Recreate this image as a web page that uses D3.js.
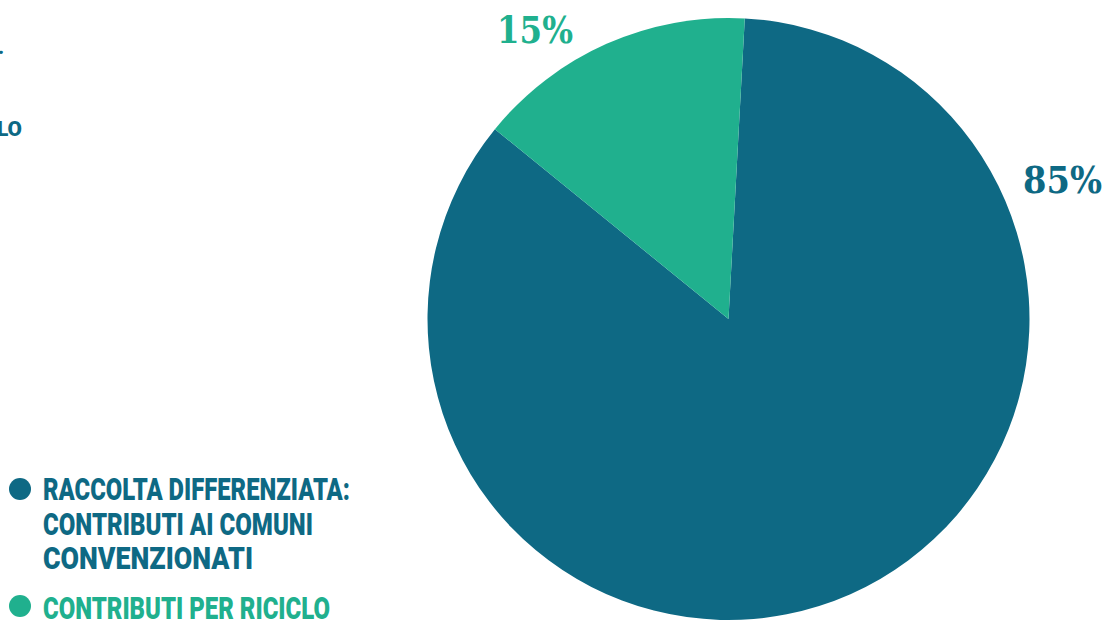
<!DOCTYPE html>
<html>
<head>
<meta charset="utf-8">
<script src="https://cdn.jsdelivr.net/npm/d3@7"></script>
<style>
  html, body { margin: 0; padding: 0; background: #ffffff; }
  svg { display: block; }
</style>
</head>
<body>
<svg id="chart" width="1119" height="623"></svg>
<script>
// ---- data ----
const categories = ["RACCOLTA DIFFERENZIATA: CONTRIBUTI AI COMUNI CONVENZIONATI", "CONTRIBUTI PER RICICLO"];
const values = [85, 15];
const valueLabels = ["85%", "15%"];
const legendLines = [
  ["RACCOLTA DIFFERENZIATA:", "CONTRIBUTI AI COMUNI", "CONVENZIONATI"],
  ["CONTRIBUTI PER RICICLO"]
];

// ---- layout / style ----
const W = 1119, H = 623;
const colors = ["#0e6984", "#20b08e"];
const cx = 728.5, cy = 319, R = 301;
const startOffset = 3.1 * Math.PI / 180;
const labelAngleFrac = [0.21, 0.317];   // position along each slice
const labelRadius = [362, 348];
const labelWidths = [79, 76];

const svg = d3.select("#chart");

const pie = d3.pie().sort(null).value(d => d)
  .startAngle(startOffset).endAngle(startOffset + 2 * Math.PI);
const arcs = pie(values);
const arc = d3.arc().innerRadius(0).outerRadius(R);

const g = svg.append("g").attr("transform", `translate(${cx},${cy})`);
g.selectAll("path.slice").data(arcs).enter().append("path")
  .attr("class", "slice")
  .attr("d", arc)
  .attr("fill", (d, i) => colors[i]);

g.selectAll("text.val").data(arcs).enter().append("text")
  .attr("class", "val")
  .each(function(d, i) {
    const a = d.startAngle + (d.endAngle - d.startAngle) * labelAngleFrac[i];
    const p = d3.pointRadial(a, labelRadius[i]);
    d3.select(this)
      .attr("x", p[0] - labelWidths[i] / 2)
      .attr("y", p[1] + 13)
      .attr("textLength", labelWidths[i])
      .attr("lengthAdjust", "spacingAndGlyphs");
  })
  .attr("font-family", "DejaVu Serif")
  .attr("font-weight", "bold")
  .attr("font-size", 38)
  .attr("fill", (d, i) => colors[i])
  .text((d, i) => valueLabels[i]);

// ---- legend ----
const legendFont = "Roboto";
const lineWidths = [[307, 270, 210], [287]];
const legendTop = [489, 606];
const lineBaselines = [[500, 535, 569], [619]];
const leg = svg.append("g");
categories.forEach((c, i) => {
  leg.append("circle").attr("cx", 20).attr("cy", legendTop[i]).attr("r", 11).attr("fill", colors[i]);
  legendLines[i].forEach((ln, j) => {
    leg.append("text")
      .attr("x", 43).attr("y", lineBaselines[i][j])
      .attr("font-family", legendFont).attr("font-weight", 900).attr("font-size", 32)
      .attr("textLength", lineWidths[i][j]).attr("lengthAdjust", "spacingAndGlyphs")
      .attr("fill", colors[i])
      .text(ln);
  });
});

// clipped fragments of text at the left edge (as in the reference)
const fragLen = 250;
svg.append("text").attr("x", 22 - fragLen).attr("y", 136)
  .attr("font-family", legendFont).attr("font-weight", 900).attr("font-size", 20)
  .attr("fill", colors[0]).attr("textLength", fragLen).attr("lengthAdjust", "spacingAndGlyphs")
  .text(legendLines[1][0]);
svg.append("text").attr("x", -2).attr("y", 54)
  .attr("font-family", legendFont).attr("font-weight", 900).attr("font-size", 20)
  .attr("fill", colors[0]).text(".");
</script>
</body>
</html>
